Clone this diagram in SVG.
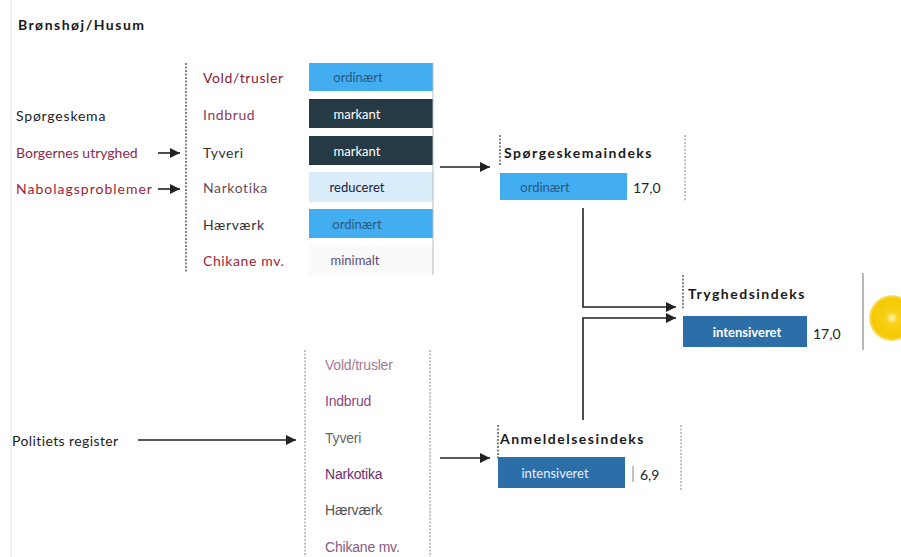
<svg xmlns="http://www.w3.org/2000/svg" width="901" height="557" viewBox="0 0 901 557">
<defs>
<marker id="ah" viewBox="0 0 10 10" refX="10" refY="5" markerWidth="10" markerHeight="10" markerUnits="userSpaceOnUse" orient="auto"><path d="M0,0 L10,5 L0,10 z" fill="#222"/></marker>
<radialGradient id="sun" cx="0.5" cy="0.5" r="0.5"><stop offset="0" stop-color="#fff7c0"/><stop offset="0.25" stop-color="#f7d21a"/><stop offset="0.85" stop-color="#f5c800"/><stop offset="1" stop-color="#fbe27a"/></radialGradient>
</defs>
<style>
text{font-family:"Lato","Open Sans","Liberation Sans",sans-serif;font-size:14px;dominant-baseline:central}
.ttl{font-weight:bold;letter-spacing:1.5px;fill:#1a1a1a;font-size:14px}
.lbl{fill:#222}
.cat{letter-spacing:0.6px}
.lb2{font-family:"Liberation Sans Narrow","Liberation Sans",sans-serif;font-size:14px;letter-spacing:-0.2px}
.dash{stroke:#333;stroke-width:1.2;stroke-dasharray:2 1.5;fill:none}
.gdash{stroke:#9a9a9a;stroke-width:1.2;stroke-dasharray:2 1.5;fill:none}
.con{stroke:#222;stroke-width:1.6;fill:none;marker-end:url(#ah)}
.lt{fill:#42adf0}
.dk{fill:#253a44}
.md{fill:#2c6ea8}
.val{font-size:13px;text-anchor:middle}
.num{fill:#222;font-size:14px}
</style>
<rect width="901" height="557" fill="#ffffff"/>
<line x1="11" y1="0" x2="11" y2="557" stroke="#ececec" stroke-width="1.5"/>
<text class="ttl" x="18" y="24">Brønshøj/Husum</text>

<g id="connectors">
<line class="con" x1="158" y1="153" x2="180" y2="153"/>
<line class="con" x1="158" y1="189" x2="180" y2="189"/>
<line class="con" x1="440" y1="167" x2="490" y2="167"/>
<polyline class="con" points="583,208 583,307 676,307"/>
<polyline class="con" points="583,420 583,318 676,318"/>
<line class="con" x1="138" y1="440" x2="296" y2="440"/>
<line class="con" x1="440" y1="458" x2="490" y2="458"/>
</g>

<g id="sources">
<text class="lbl" x="16" y="115" letter-spacing="0.8">Spørgeskema</text>
<text x="16" y="152" fill="#8a2a4e">Borgernes utryghed</text>
<text x="16" y="188" fill="#a21c34" letter-spacing="1">Nabolagsproblemer</text>
<text x="12" y="440" fill="#222" font-family="Liberation Sans, sans-serif" font-size="14" letter-spacing="0.4">Politiets register</text>
</g>

<g id="survey-items">
<line class="dash" x1="186" y1="63" x2="186" y2="273"/>
<text class="cat" x="203" y="77" fill="#8b1a3a">Vold/trusler</text>
<text class="cat" x="203" y="114" fill="#8e3a5c">Indbrud</text>
<text class="cat" x="203" y="152" fill="#333">Tyveri</text>
<text class="cat" x="203" y="187" fill="#6a4a5a">Narkotika</text>
<text class="cat" x="203" y="224" fill="#333">Hærværk</text>
<text class="cat" x="203" y="260" fill="#a0243a">Chikane mv.</text>
<rect class="lt" x="309" y="63" width="124" height="28"/>
<text class="val" x="358" y="77" fill="#2a5a80">ordinært</text>
<rect class="dk" x="309" y="99" width="124" height="29"/>
<text class="val" x="357" y="114" fill="#ffffff">markant</text>
<rect class="dk" x="309" y="136" width="124" height="29"/>
<text class="val" x="357" y="151" fill="#ffffff">markant</text>
<rect x="309" y="172" width="124" height="30" fill="#d8ecfa"/>
<text class="val" x="357" y="187" fill="#1a1a3a">reduceret</text>
<rect class="lt" x="309" y="209" width="124" height="29"/>
<text class="val" x="357" y="224" fill="#2a5a80">ordinært</text>
<rect x="309" y="245" width="124" height="30" fill="#fafafa"/>
<text class="val" x="355" y="260" fill="#5a4a7a">minimalt</text>
<line x1="433" y1="63" x2="433" y2="275" stroke="#bbb" stroke-width="1"/>
</g>

<g id="spoergeskemaindeks">
<line class="dash" x1="500" y1="135" x2="500" y2="165"/>
<text class="ttl" x="504" y="152">Spørgeskemaindeks</text>
<rect class="lt" x="500" y="173" width="127" height="27"/>
<text class="val" x="545" y="187" fill="#2a5a80">ordinært</text>
<text class="num" x="633" y="187" fill="#888">17,0</text>
<line class="gdash" x1="685" y1="135" x2="685" y2="202"/>
</g>

<g id="tryghedsindeks">
<line class="dash" x1="683" y1="275" x2="683" y2="310"/>
<text class="ttl" x="688" y="293">Tryghedsindeks</text>
<rect class="md" x="683" y="316" width="124" height="31"/>
<text class="val" x="747" y="332" fill="#ffffff" font-weight="bold" font-size="15">intensiveret</text>
<text class="num" x="813" y="333">17,0</text>
<line x1="863" y1="273" x2="863" y2="350" stroke="#888" stroke-width="1.2"/>
<circle cx="892" cy="318" r="23" fill="url(#sun)"/>
</g>

<g id="register-items">
<line class="gdash" x1="305" y1="350" x2="305" y2="557"/>
<line class="gdash" x1="430" y1="350" x2="430" y2="557"/>
<text class="lb2" x="325" y="365" fill="#a57a92">Vold/trusler</text>
<text class="lb2" x="325" y="401" fill="#8a4a7c">Indbrud</text>
<text class="lb2" x="325" y="438" fill="#666">Tyveri</text>
<text class="lb2" x="325" y="474" fill="#6e2e6e">Narkotika</text>
<text class="lb2" x="325" y="510" fill="#555">Hærværk</text>
<text class="lb2" x="325" y="547" fill="#8a5a84">Chikane mv.</text>
</g>

<g id="anmeldelsesindeks">
<line class="dash" x1="498" y1="425" x2="498" y2="460"/>
<text class="ttl" x="500" y="438">Anmeldelsesindeks</text>
<rect class="md" x="498" y="457" width="127" height="31"/>
<text class="val" x="555" y="473" fill="#e8f0ff">intensiveret</text>
<line x1="633" y1="466" x2="633" y2="482" stroke="#888" stroke-width="1"/>
<text class="num" x="640" y="474">6,9</text>
<line class="gdash" x1="681" y1="425" x2="681" y2="490"/>
</g>
</svg>
